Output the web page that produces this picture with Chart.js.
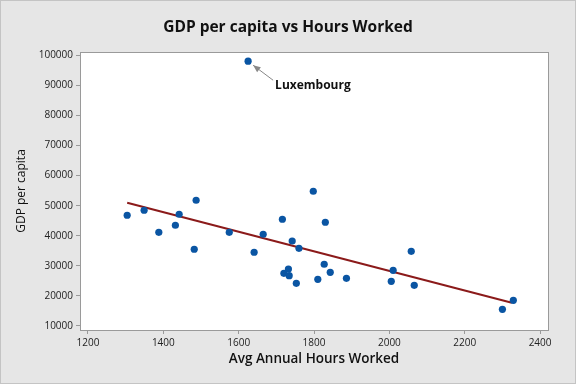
<!DOCTYPE html>
<html>
<head>
<meta charset="utf-8">
<script src="https://cdn.jsdelivr.net/npm/chart.js@4.4.1/dist/chart.umd.min.js"></script>
<style>
  html, body { margin: 0; padding: 0; background: #e6e6e6; }
  #wrap { width: 576px; height: 384px; position: relative; }
</style>
</head>
<body>
<div id="wrap"><canvas id="c" width="576" height="384"></canvas></div>
<script>
// ---- data ----
const hours = [1304, 1349, 1388, 1432, 1442, 1487, 1482, 1575, 1625, 1641, 1665, 1716, 1742, 1760, 1720, 1732, 1734, 1753, 1798, 1810, 1830, 1827, 1843, 1886, 2010, 2005, 2058, 2066, 2300, 2329];
const gdp   = [46800, 48470, 41130, 43470, 47130, 51800, 35470, 41130, 98130, 34470, 40470, 45470, 38230, 35800, 27470, 28900, 26670, 24130, 54800, 25470, 44470, 30470, 27800, 25800, 28470, 24800, 34800, 23470, 15470, 18470];
const fitX = [1304, 2325];
const fitY = [51000, 17670];
const xTicks = [1200, 1400, 1600, 1800, 2000, 2200, 2400];
const yTicks = [10000, 20000, 30000, 40000, 50000, 60000, 70000, 80000, 90000, 100000];
const labelText = 'Luxembourg';
const labelIndex = 8;

const FONT = "'Open Sans', 'DejaVu Sans', sans-serif";

const decor = {
  id: 'decor',
  beforeDraw(chart) {
    const ctx = chart.ctx;
    ctx.save();
    ctx.fillStyle = '#e6e6e6';
    ctx.fillRect(0, 0, 576, 384);
    ctx.strokeStyle = '#c4c4c4';
    ctx.lineWidth = 1;
    ctx.strokeRect(0.5, 0.5, 575, 383);
    const a = chart.chartArea;
    ctx.fillStyle = '#ffffff';
    ctx.fillRect(a.left, a.top, a.right - a.left, a.bottom - a.top);
    ctx.restore();
  },
  afterDraw(chart) {
    const ctx = chart.ctx;
    const a = chart.chartArea;
    ctx.save();
    ctx.strokeStyle = '#9a9a9a';
    ctx.lineWidth = 1;
    ctx.strokeRect(Math.round(a.left) + 0.5, Math.round(a.top) + 0.5, Math.round(a.right - a.left), Math.round(a.bottom - a.top));
    // title
    ctx.fillStyle = '#111';
    ctx.textAlign = 'center';
    ctx.textBaseline = 'middle';
    ctx.font = "bold 15.5px " + FONT;
    ctx.fillText('GDP per capita vs Hours Worked', 288, 28);
    // x title
    ctx.font = "600 13.5px " + FONT;
    ctx.fillText('Avg Annual Hours Worked', (a.left + a.right) / 2, 359);
    // y title
    ctx.save();
    ctx.translate(22, (a.top + a.bottom) / 2);
    ctx.rotate(-Math.PI / 2);
    ctx.font = "12px " + FONT;
    ctx.fillText('GDP per capita', 0, 0);
    ctx.restore();
    // annotation
    const xs = chart.scales.x, ys = chart.scales.y;
    const px = xs.getPixelForValue(hours[labelIndex]);
    const py = ys.getPixelForValue(gdp[labelIndex]);
    const sx = px + 25, sy = py + 19;
    const ex = px + 5, ey = py + 4;
    ctx.strokeStyle = '#888';
    ctx.fillStyle = '#888';
    ctx.lineWidth = 1;
    ctx.beginPath();
    ctx.moveTo(sx, sy);
    ctx.lineTo(ex, ey);
    ctx.stroke();
    const ang = Math.atan2(ey - sy, ex - sx);
    ctx.beginPath();
    ctx.moveTo(ex, ey);
    ctx.lineTo(ex - 8 * Math.cos(ang - 0.4), ey - 8 * Math.sin(ang - 0.4));
    ctx.lineTo(ex - 8 * Math.cos(ang + 0.4), ey - 8 * Math.sin(ang + 0.4));
    ctx.closePath();
    ctx.fill();
    ctx.fillStyle = '#111';
    ctx.font = "bold 12px " + FONT;
    ctx.textAlign = 'left';
    ctx.fillText(labelText, px + 27, py + 24);
    ctx.restore();
  }
};

new Chart(document.getElementById('c'), {
  type: 'scatter',
  data: {
    datasets: [
      {
        type: 'line',
        data: fitX.map((x, i) => ({ x, y: fitY[i] })),
        borderColor: '#8b1a1a',
        borderWidth: 2,
        pointRadius: 0,
        fill: false,
        order: 2
      },
      {
        data: hours.map((x, i) => ({ x, y: gdp[i] })),
        backgroundColor: '#0a55a3',
        borderColor: '#0a55a3',
        pointRadius: 3.6,
        pointBorderWidth: 0,
        order: 1
      }
    ]
  },
  plugins: [decor],
  options: {
    responsive: false,
    animation: false,
    layout: { padding: { top: 52, right: 28, left: 0, bottom: 0 } },
    plugins: { legend: { display: false }, tooltip: { enabled: false } },
    scales: {
      x: {
        type: 'linear',
        min: 1178.8,
        max: 2421,
        afterFit(s) { s.height = 54; },
        afterBuildTicks(s) { s.ticks = xTicks.map(v => ({ value: v })); },
        grid: { drawOnChartArea: false, tickLength: 4, color: '#9a9a9a' },
        border: { color: '#9a9a9a' },
        ticks: { font: { family: FONT, size: 10 }, color: '#222', padding: 3, maxRotation: 0, autoSkip: false, callback: v => String(v) }
      },
      y: {
        type: 'linear',
        min: 8570,
        max: 101200,
        afterFit(s) { s.width = 80; },
        afterBuildTicks(s) { s.ticks = yTicks.map(v => ({ value: v })); },
        grid: { drawOnChartArea: false, tickLength: 4, color: '#9a9a9a' },
        border: { color: '#9a9a9a' },
        ticks: { font: { family: FONT, size: 10 }, color: '#222', padding: 3, autoSkip: false, callback: v => String(v) }
      }
    }
  }
});
</script>
</body>
</html>
